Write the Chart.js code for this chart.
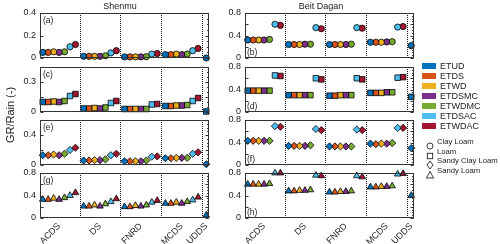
<!DOCTYPE html>
<html><head><meta charset="utf-8">
<script src="https://cdn.jsdelivr.net/npm/chart.js@4/dist/chart.umd.min.js"></script>
<style>
body{margin:0;background:#fff;width:500px;height:244px;position:relative;overflow:hidden;font-family:"Liberation Sans",Arial,sans-serif;color:#222;}
.c{position:absolute;}
.t{position:absolute;white-space:nowrap;line-height:1;}
</style></head><body>
<script>
// ---------- data ----------
const groups = ['ACDS','DS','FNRD','MCDS','UDDS'];
const seriesNames = ['ETUD','ETDS','ETWD','ETDSMC','ETWDMC','ETDSAC','ETWDAC'];
const seriesColors = ['#0072BD','#D95319','#EDB120','#7E2F8E','#77AC30','#4DBEEE','#A2142F'];
const soilNames = ['Clay Loam','Loam','Sandy Clay Loam','Sandy Loam'];
// rows: series (ETUD..ETWDAC); columns: ACDS, DS, FNRD, MCDS, UDDS
const shenmuClayLoam = [
  [0.05,0.015,0.01,0.03,0.0],
  [0.05,0.015,0.01,0.03,null],
  [0.055,0.015,0.01,0.035,null],
  [0.05,0.015,0.01,0.03,null],
  [0.055,0.02,0.012,0.035,null],
  [0.10,0.045,0.035,0.065,null],
  [0.12,0.065,0.04,0.085,null]];
const shenmuLoam = [
  [0.10,0.035,0.03,0.06,0.005],
  [0.10,0.035,0.03,0.06,null],
  [0.105,0.04,0.03,0.065,null],
  [0.10,0.035,0.03,0.065,null],
  [0.11,0.045,0.03,0.07,null],
  [0.16,0.09,0.075,0.11,null],
  [0.18,0.11,0.08,0.14,null]];
const shenmuSandyClayLoam = [
  [0.13,0.06,0.05,0.09,0.01],
  [0.13,0.06,0.05,0.09,null],
  [0.14,0.065,0.05,0.095,null],
  [0.13,0.065,0.05,0.095,null],
  [0.15,0.075,0.06,0.095,null],
  [0.20,0.13,0.11,0.15,null],
  [0.23,0.15,0.115,0.17,null]];
const shenmuSandyLoam = [
  [0.33,0.21,0.20,0.26,0.05],
  [0.33,0.21,0.20,0.26,null],
  [0.35,0.23,0.22,0.28,null],
  [0.33,0.21,0.21,0.26,null],
  [0.36,0.25,0.23,0.29,null],
  [0.40,0.29,0.28,0.32,null],
  [0.45,0.34,0.31,0.37,null]];
const beitClayLoam = [
  [0.32,0.24,0.24,0.28,0.22],
  [0.32,0.24,0.24,0.28,null],
  [0.32,0.24,0.24,0.28,null],
  [0.32,0.245,0.24,0.285,null],
  [0.33,0.245,0.245,0.29,null],
  [0.60,0.54,0.54,0.55,null],
  [0.58,0.52,0.53,0.56,null]];
const beitLoam = [
  [0.38,0.30,0.29,0.34,0.27],
  [0.38,0.30,0.29,0.34,null],
  [0.38,0.30,0.30,0.34,null],
  [0.38,0.30,0.30,0.35,null],
  [0.38,0.30,0.30,0.35,null],
  [0.65,0.60,0.60,0.61,null],
  [0.64,0.58,0.58,0.62,null]];
const beitSandyClayLoam = [
  [0.43,0.34,0.33,0.38,0.30],
  [0.43,0.34,0.33,0.37,null],
  [0.43,0.34,0.33,0.38,null],
  [0.43,0.34,0.33,0.38,null],
  [0.43,0.35,0.33,0.39,null],
  [0.69,0.64,0.63,0.66,null],
  [0.68,0.62,0.62,0.66,null]];
const beitSandyLoam = [
  [0.60,0.48,0.46,0.55,0.40],
  [0.60,0.48,0.46,0.55,null],
  [0.60,0.49,0.47,0.56,null],
  [0.60,0.49,0.47,0.56,null],
  [0.61,0.50,0.48,0.57,null],
  [0.80,0.76,0.75,0.78,null],
  [0.80,0.75,0.73,0.79,null]];
const shenmuYMax = [0.4,0.45,0.6,0.8];
const shenmuYStep = [0.2,0.15,0.2,0.2];
const beitYMax = [0.8,0.8,0.8,0.8];
const beitYStep = [0.2,0.2,0.2,0.2];
const panelLetters = ['(a)','(b)','(c)','(d)','(e)','(f)','(g)','(h)'];
const titles = ['Shenmu','Beit Dagan'];
const yTitle = 'GR/Rain (-)';

// ---------- layout ----------
const GROUP_W = 7.5, X_MAX = 31;
const COL_L = [40,245], PW = 169, ROW_T = [13,67,120,173], PH = 45;
const PAD = 5, YW = 40, XH = 30;
const markers = ['circle','rect','rectRot','triangle'];
const markerR = [3.1,3.9,3.6,3.8];

const panelPlugin = {
  id:'panelBox',
  beforeDatasetsDraw(chart){
    const {ctx, chartArea:a, scales:{x}} = chart;
    ctx.save();
    ctx.strokeStyle='#111'; ctx.lineWidth=1; ctx.setLineDash([1,1]);
    for (let g=0; g<4; g++){
      const px = Math.round(x.getPixelForValue(g*GROUP_W+7.25))+0.5;
      ctx.beginPath(); ctx.moveTo(px,a.top); ctx.lineTo(px,a.bottom); ctx.stroke();
    }
    ctx.restore();
  },
  afterDraw(chart){
    const {ctx, chartArea:a, scales:{y}} = chart;
    ctx.save();
    ctx.strokeStyle='#333'; ctx.lineWidth=1;
    const L=Math.round(a.left)+0.5, R=Math.round(a.right)-0.5, T=Math.round(a.top)+0.5, B=Math.round(a.bottom)-0.5;
    ctx.strokeRect(L,T,R-L,B-T);
    const step = chart.options.scales.y.ticks.stepSize, mx = chart.options.scales.y.max;
    ctx.beginPath();
    for (let v=0; v<=mx+1e-9; v+=step){
      const py=Math.round(y.getPixelForValue(v))+0.5;
      ctx.moveTo(L,py); ctx.lineTo(L+3,py);
      ctx.moveTo(R,py); ctx.lineTo(R-3,py);
    }
    for (let v=0; v<=mx+1e-9; v+=0.05){
      const py=Math.round(y.getPixelForValue(v))+0.5;
      ctx.moveTo(R,py); ctx.lineTo(R-1.5,py);
    }
    ctx.stroke();
    ctx.restore();
  }
};

function addText(txt, css){
  const d=document.createElement('div'); d.className='t'; d.textContent=txt;
  Object.assign(d.style, css); document.body.appendChild(d); return d;
}

function makePanel(col,row,data,yMax,yStep){
  const bottom = row===3;
  const div=document.createElement('div'); div.className='c';
  const W = YW+PW+PAD, H = PAD+PH+(bottom?XH:PAD);
  Object.assign(div.style,{left:(COL_L[col]-YW)+'px',top:(ROW_T[row]-PAD)+'px',width:W+'px',height:H+'px'});
  const cv=document.createElement('canvas'); div.appendChild(cv); document.body.appendChild(div);
  const datasets = seriesNames.map((name,s)=>({
    label:name,
    data: data[s].map((v,g)=> v==null?null:{x:g*GROUP_W+0.5+s, y:v}).filter(p=>p),
    backgroundColor: seriesColors[s], borderColor:'#000', borderWidth:0.8,
    pointStyle: markers[row], pointRadius: markerR[row], showLine:false, clip:false
  }));
  new Chart(cv,{
    type:'scatter',
    data:{datasets},
    plugins:[panelPlugin],
    options:{
      responsive:true, maintainAspectRatio:false, animation:false, events:[],
      layout:{padding:{top:PAD,right:PAD,bottom:bottom?0:PAD,left:0}},
      plugins:{legend:{display:false},tooltip:{enabled:false}},
      scales:{
        x:{type:'linear',min:0,max:X_MAX,display:bottom,
           grid:{display:false,drawTicks:false},border:{display:false},
           afterBuildTicks:(s)=>{s.ticks=groups.map((g,i)=>({value: i<4 ? i*GROUP_W+3.5 : 4*GROUP_W+0.5}));},
           afterFit:(s)=>{ if(bottom){s.height=XH;} else {s.height=0;} s.paddingLeft=0;s.paddingRight=0;},
           ticks:{autoSkip:false,minRotation:45,maxRotation:45,padding:3,color:'#222',
             font:{family:'"Liberation Sans", Arial, sans-serif',size:9},
             callback:(v,i)=>groups[i]}},
        y:{min:0,max:yMax,
           grid:{display:false,drawTicks:false},border:{display:false},
           afterFit:(s)=>{s.width=YW;s.paddingTop=0;s.paddingBottom=0;},
           ticks:{stepSize:yStep,padding:4,color:'#222',
             font:{family:'"Liberation Sans", Arial, sans-serif',size:9},
             callback:(v)=>String(+v.toFixed(2))}}
      }
    }
  });
  const letter = panelLetters[row*2+col];
  if (col===0) addText(letter,{left:(COL_L[0]+3)+'px',top:(ROW_T[row]+3)+'px',fontSize:'8.5px'});
  else addText(letter,{left:(COL_L[1]+2)+'px',top:(ROW_T[row]+PH-10)+'px',fontSize:'8.5px'});
}

const shenmuData=[shenmuClayLoam,shenmuLoam,shenmuSandyClayLoam,shenmuSandyLoam];
const beitData=[beitClayLoam,beitLoam,beitSandyClayLoam,beitSandyLoam];
for(let r=0;r<4;r++){
  makePanel(0,r,shenmuData[r],shenmuYMax[r],shenmuYStep[r]);
  makePanel(1,r,beitData[r],beitYMax[r],beitYStep[r]);
}

addText(titles[0],{left:'90px',width:'60px',textAlign:'center',top:'2px',fontSize:'9px'});
addText(titles[1],{left:'291px',width:'60px',textAlign:'center',top:'2px',fontSize:'9px'});
addText(yTitle,{left:'10px',top:'115px',fontSize:'11px',transform:'translate(-50%,-50%) rotate(-90deg)'});

seriesNames.forEach((n,i)=>{
  const cy = 66 + i*10;
  const b=document.createElement('div');
  Object.assign(b.style,{position:'absolute',left:'422px',top:(cy-3)+'px',width:'14px',height:'6px',background:seriesColors[i]});
  document.body.appendChild(b);
  addText(n,{left:'440px',top:(cy-4.5)+'px',fontSize:'9px'});
});
const shapeSvgs = [
  '<circle cx="5" cy="5" r="3" fill="none" stroke="#222" stroke-width="0.9"/>',
  '<rect x="2.3" y="2.3" width="5.4" height="5.4" fill="none" stroke="#222" stroke-width="0.9"/>',
  '<polygon points="5,1 8,5 5,9 2,5" fill="none" stroke="#222" stroke-width="0.9"/>',
  '<polygon points="5,1.5 8.6,8 1.4,8" fill="none" stroke="#222" stroke-width="0.9"/>'];
soilNames.forEach((n,i)=>{
  const cy = 142.3 + i*9.5;
  const s=document.createElement('div');
  Object.assign(s.style,{position:'absolute',left:'425px',top:(cy-5)+'px',width:'10px',height:'10px'});
  s.innerHTML='<svg width="10" height="10" viewBox="0 0 10 10">'+shapeSvgs[i]+'</svg>';
  document.body.appendChild(s);
  addText(n,{left:'437px',top:(cy-4)+'px',fontSize:'7.7px'});
});
</script>
</body></html>
